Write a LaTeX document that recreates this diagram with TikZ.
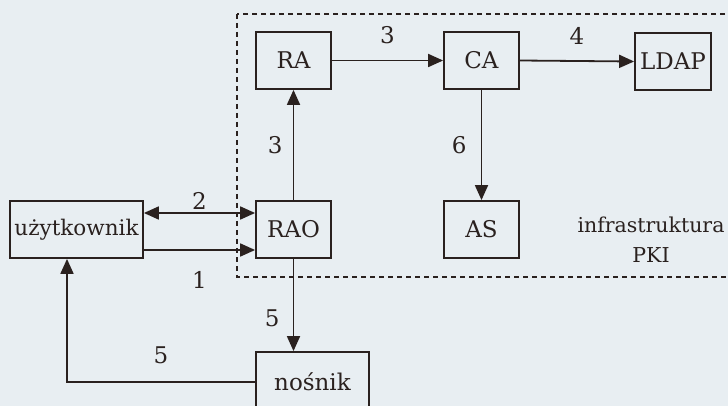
\documentclass[tikz,border=0pt]{standalone}
\usepackage{fontspec}
\setmainfont{DejaVu Serif}
\usetikzlibrary{arrows.meta,positioning,calc}
\definecolor{cInk}  {HTML}{2A211F}
\definecolor{cPaper}{HTML}{E8EEF2}
\tikzset{
  >={Triangle[length=15pt,width=13pt]},
  blk/.style  ={draw=cInk,line width=1.8pt,minimum width=75pt,minimum height=57pt,
                inner sep=0pt,font=\fontsize{23}{29}\selectfont,text=cInk},
  sig/.style  ={->,draw=cInk,line width=1.8pt},
  grp/.style  ={draw=cInk,line width=1.7pt,dash pattern=on 5pt off 4pt},
  num/.style  ={font=\fontsize{23}{29}\selectfont,text=cInk,inner sep=0pt},
}

\begin{document}
\begin{tikzpicture}[x=1pt,y=-1pt]
\clip (0,0) rectangle (728,406);
\fill[cPaper] (0,0) rectangle (728,406);

% ---- PKI infrastructure ---------------------------------------------------
\draw[grp] (237,14) rectangle (740,277);
\node[blk] (ra)   at (293.5,60.5)  {RA};
\node[blk] (ca)   at (481.5,60.5)  {CA};
\node[blk,minimum width=76pt] (ldap) at (673,61.5) {LDAP};
\node[blk] (rao)  at (293.5,229.5) {RAO};
\node[blk] (as)   at (481.5,229.5) {AS};
\node[num,align=center,font=\fontsize{20.5}{30}\selectfont] (pki) at (651,240)
  {infrastruktura\\PKI};

% ---- user side ------------------------------------------------------------
\node[blk,minimum width=133pt,font=\fontsize{21.5}{28}\selectfont] (user)
  at (76.5,229.5) {użytkownik};
\node[blk,minimum width=113pt,minimum height=60pt] (nosnik) at (312.5,382) {nośnik};

% ---- flows ----------------------------------------------------------------
\draw[sig,<->] ([yshift=16.5pt]user.east) -- ([yshift=16.5pt]rao.west)
  node[num,midway,above=2.5pt] (n2) {2};
\draw[sig] ([yshift=-20.5pt]user.east) -- ([yshift=-20.5pt]rao.west)
  node[num,midway,below=21pt] (n1) {1};
\draw[sig] (rao.north) -- (ra.south) node[num,midway,left=10pt] (n3a) {3};
\draw[sig] (ra.east) -- (ca.west) node[num,midway,above=16pt] (n3b) {3};
\draw[sig] (ca.east) -- (ldap.west) node[num,midway,above=16pt] (n4) {4};
\draw[sig] (ca.south) -- (as.north) node[num,midway,left=14pt] (n6) {6};
\draw[sig] (rao.south) -- (rao.south |- nosnik.north)
  node[num,pos=0.64,left=13pt] (n5a) {5};
\draw[sig] (nosnik.west) -| ([xshift=-9.5pt]user.south)
  node[num,pos=0.25,above=17pt] (n5b) {5};
\end{tikzpicture}
\end{document}
